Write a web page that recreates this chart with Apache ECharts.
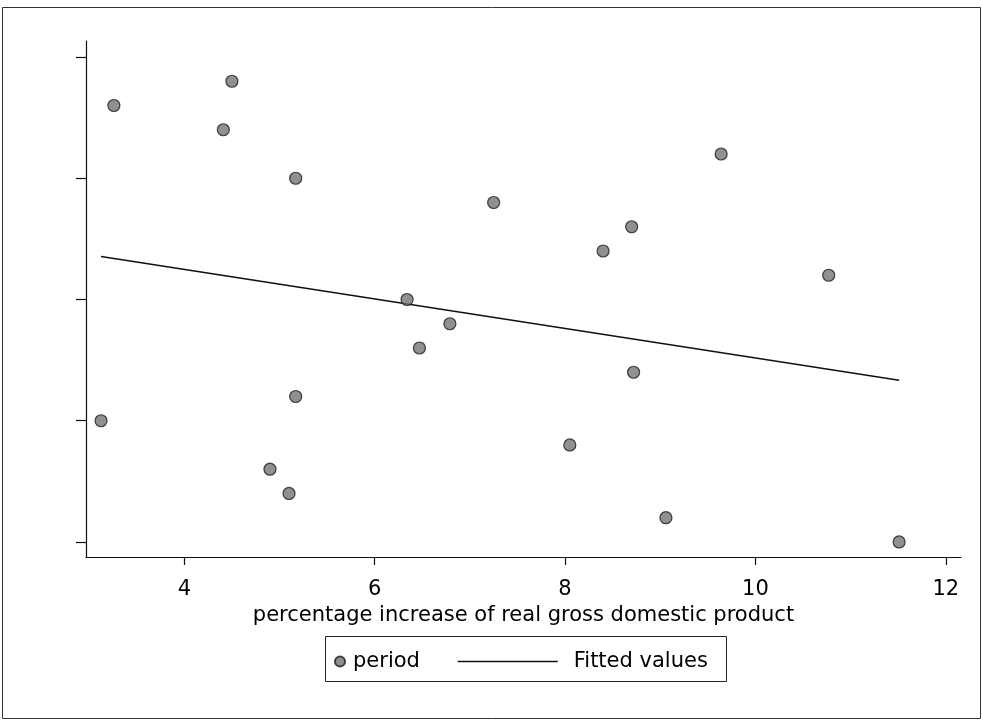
<!DOCTYPE html>
<html>
<head>
<meta charset="utf-8">
<script src="https://cdn.jsdelivr.net/npm/echarts@6/dist/echarts.min.js"></script>
<style>
  html, body { margin: 0; padding: 0; background: #fff; }
  #chart { width: 983px; height: 723px; }
</style>
</head>
<body>
<div id="chart"></div>
<script>
// Data
const gdpGrowth = [4.50, 3.26, 4.41, 9.64, 5.17, 7.25, 8.70, 8.40, 10.77, 6.34, 6.79, 6.47, 8.72, 5.17, 3.125, 8.05, 4.90, 5.10, 9.06, 11.51];
const period    = [19, 18, 17, 16, 15, 14, 13, 12, 11, 10, 9, 8, 7, 6, 5, 4, 3, 2, 1, 0];
const fitX = [3.125, 11.51];
const fitY = [11.77, 6.67];
const xTicks = [4, 6, 8, 10, 12];
const yTicks = [0, 5, 10, 15, 20];
const xTitle = 'percentage increase of real gross domestic product';

const FONT = 'DejaVu Sans';
const chart = echarts.init(document.getElementById('chart'), null, { renderer: 'canvas' });

const scatterData = gdpGrowth.map((x, i) => [x, period[i]]);
const fitData = fitX.map((x, i) => [x, fitY[i]]);

chart.setOption({
  backgroundColor: '#ffffff',
  animation: false,
  grid: { left: 86, right: 22, top: 41, bottom: 166 },
  xAxis: {
    type: 'value',
    min: 2.967, max: 12.16,
    name: xTitle,
    nameLocation: 'middle',
    nameGap: 34,
    nameTextStyle: { color: '#000', fontFamily: FONT, fontSize: 21 },
    axisLine: { show: true, onZero: false, lineStyle: { color: '#111', width: 1.2 } },
    axisTick: { show: true, inside: false, length: 8, customValues: xTicks, lineStyle: { color: '#111', width: 1.2 } },
    axisLabel: { show: true, margin: 22, customValues: xTicks, color: '#000', fontFamily: FONT, fontSize: 21 },
    splitLine: { show: false }
  },
  yAxis: {
    type: 'value',
    min: -0.62, max: 20.66,
    axisLine: { show: true, onZero: false, lineStyle: { color: '#111', width: 1.2 } },
    axisTick: { show: true, inside: false, length: 10, customValues: yTicks, lineStyle: { color: '#111', width: 1.2 } },
    axisLabel: { show: false },
    splitLine: { show: false }
  },
  legend: [
    {
      data: [{ name: 'period', icon: 'circle' }],
      left: 334, top: 651,
      padding: 0,
      itemWidth: 10, itemHeight: 10,
      textStyle: { color: '#000', fontFamily: FONT, fontSize: 21, padding: [0, 0, 0, 3] },
      selectedMode: false
    },
    {
      data: [{ name: 'Fitted values', itemStyle: { opacity: 0 } }],
      left: 457, top: 651,
      padding: 0,
      itemWidth: 100, itemHeight: 14,
      lineStyle: { color: '#111', width: 1.5 },
      textStyle: { color: '#000', fontFamily: FONT, fontSize: 21, padding: [0, 0, 0, 11] },
      selectedMode: false
    }
  ],
  graphic: [
    { type: 'rect', shape: { x: 2.5, y: 7.5, width: 978, height: 711 }, style: { fill: 'none', stroke: '#333', lineWidth: 1 }, silent: true },
    { type: 'rect', shape: { x: 325.5, y: 636.5, width: 401, height: 45 }, style: { fill: 'none', stroke: '#222', lineWidth: 1 }, silent: true }
  ],
  series: [
    {
      name: 'Fitted values',
      type: 'line',
      data: fitData,
      symbol: 'none',
      lineStyle: { color: '#111', width: 1.5 },
      itemStyle: { color: '#111' },
      z: 2
    },
    {
      name: 'period',
      type: 'scatter',
      data: scatterData,
      symbol: 'circle',
      symbolSize: 12,
      itemStyle: { color: '#747474', borderColor: '#1a1a1a', borderWidth: 1.2 },
      z: 3
    }
  ]
});
</script>
</body>
</html>
